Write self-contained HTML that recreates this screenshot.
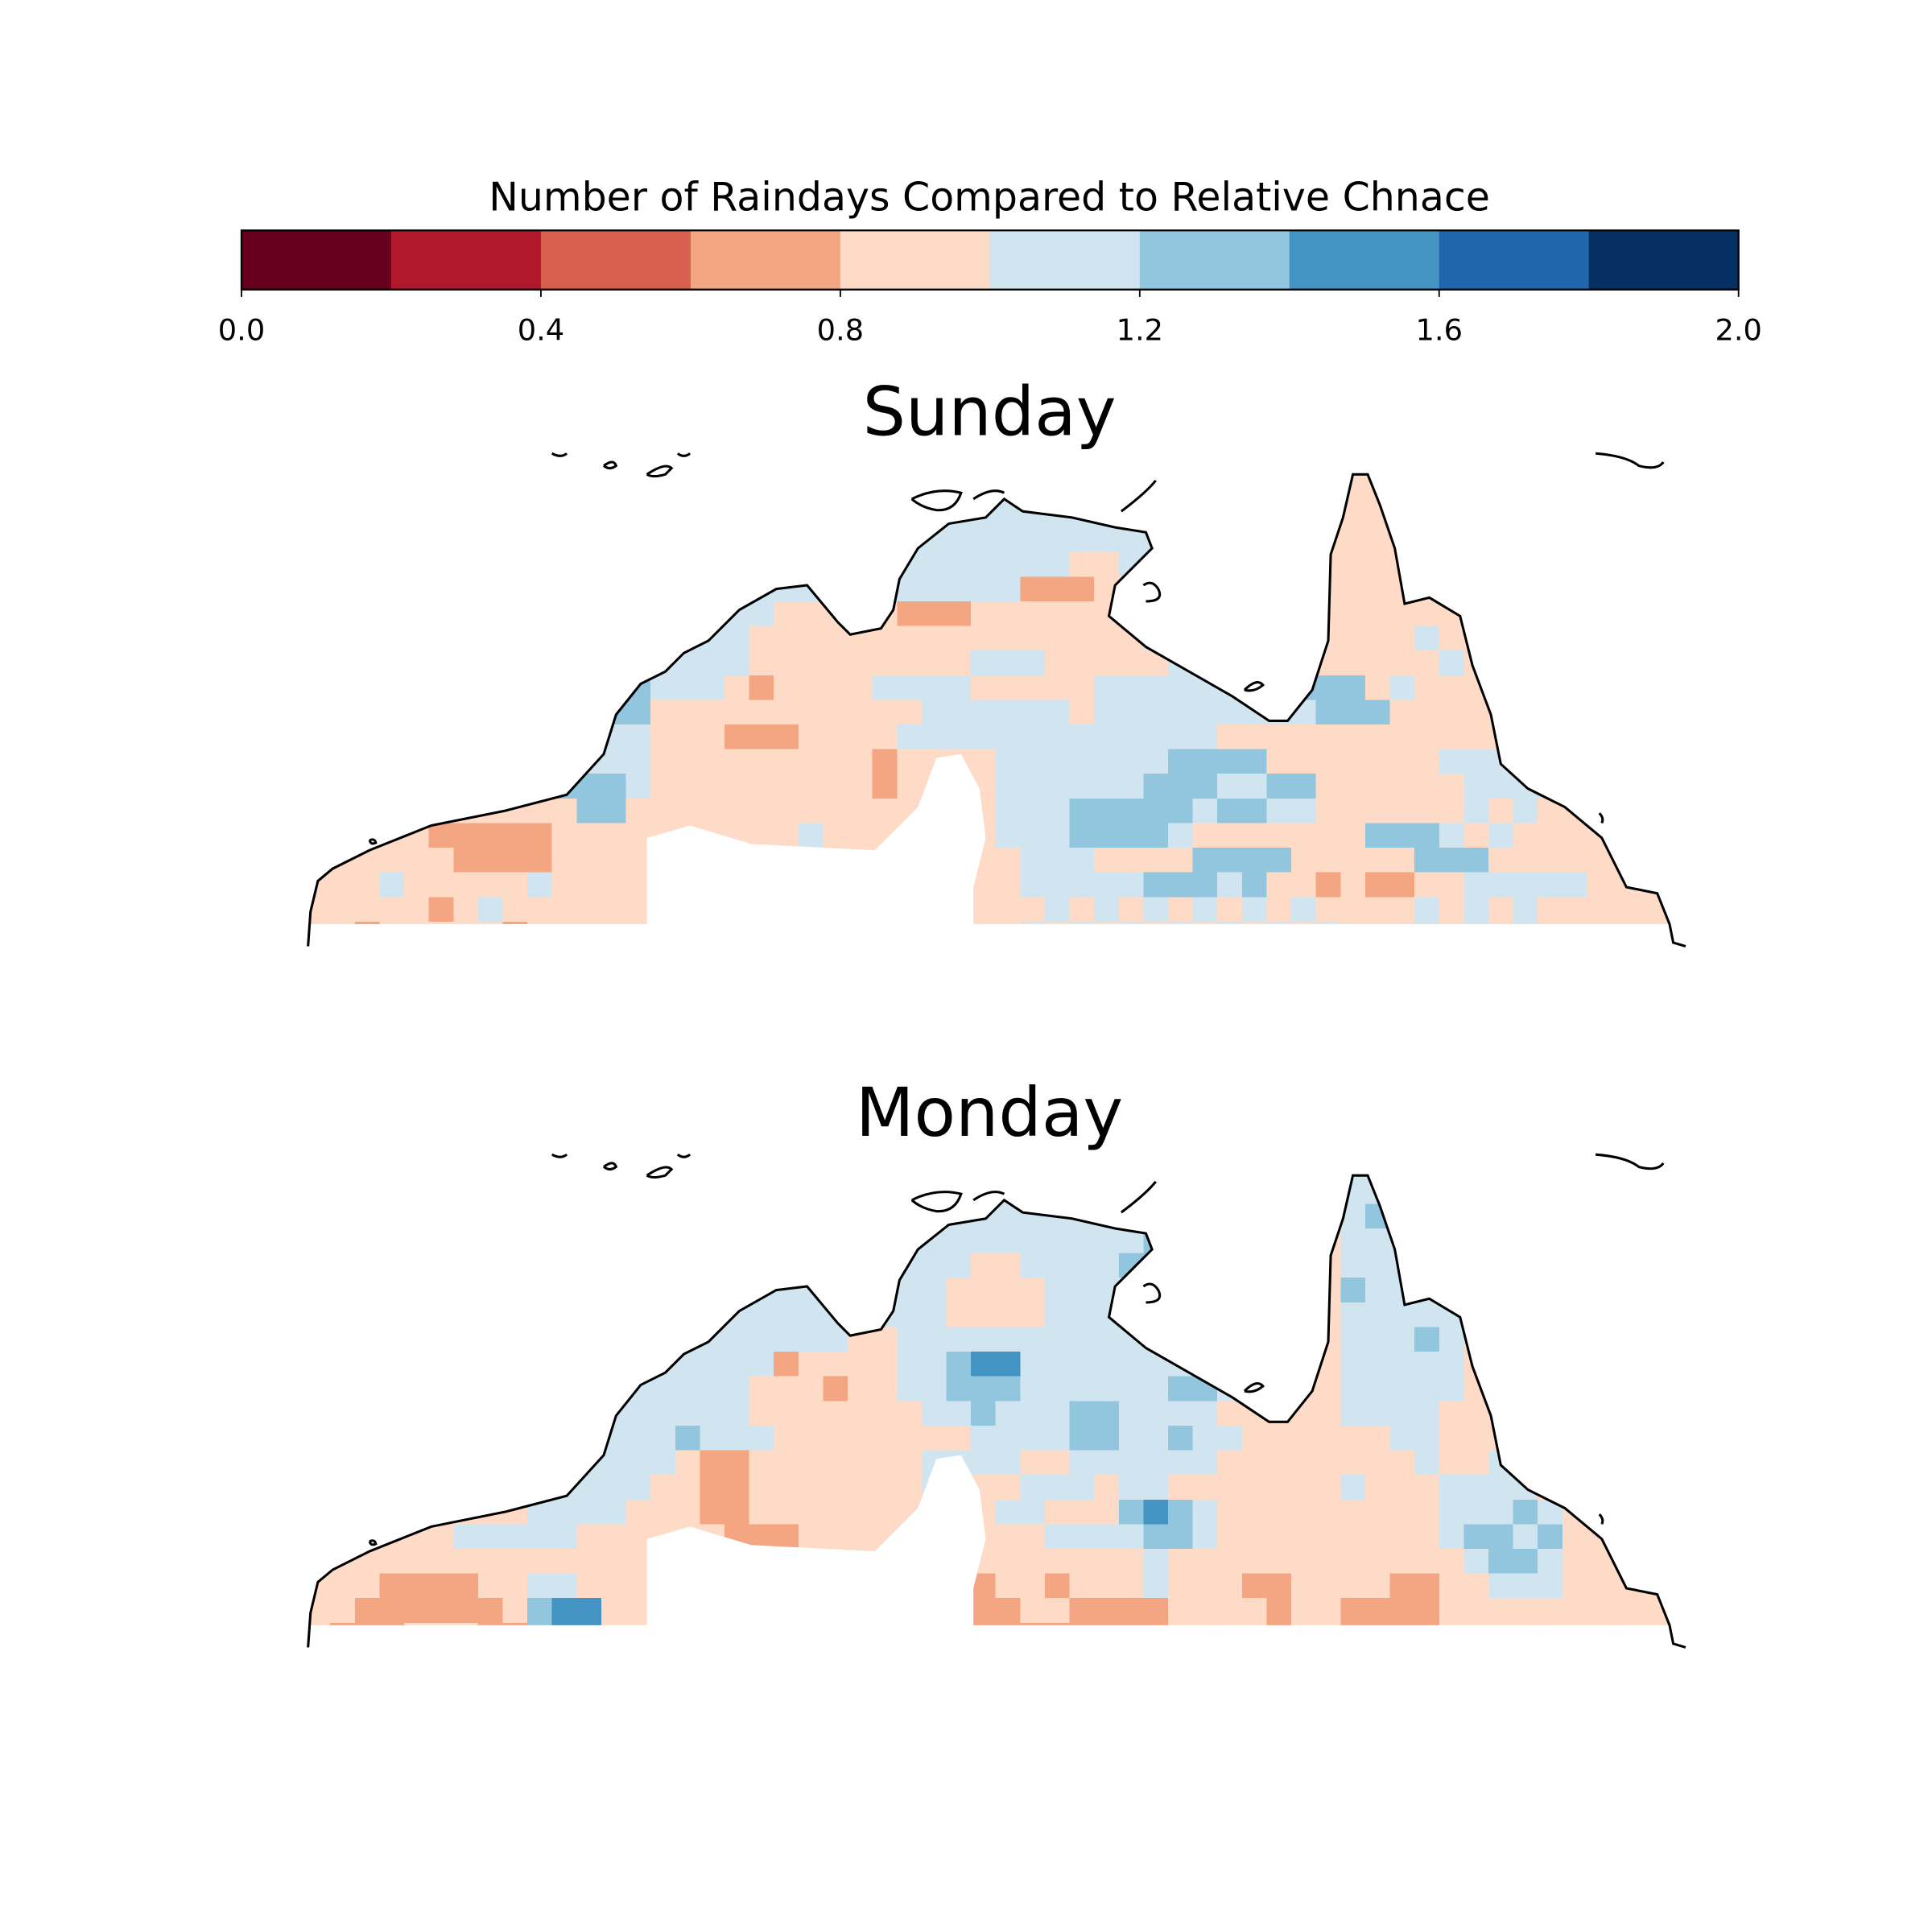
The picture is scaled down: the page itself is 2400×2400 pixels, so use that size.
<!DOCTYPE html>
<html><head><meta charset="utf-8"><title>Raindays maps</title>
<style>html,body{margin:0;padding:0;background:#fff}svg{display:block}text{font-family:"DejaVu Sans","Liberation Sans",sans-serif;fill:#000}</style>
</head><body>
<svg id="chart" width="2400" height="2400" viewBox="0 0 1568 1568" xmlns="http://www.w3.org/2000/svg">
<defs>
<clipPath id="landclip"><polygon points="250,768 252,740 258,715 270,705 300,690 350,670 410,658 460,645 490,612 500,580 520,555 540,545 555,530 575,520 600,495 630,478 655,475 680,505 690,515 715,510 725,495 730,470 745,445 770,425 800,420 815,405 830,415 870,420 905,428 930,432 935,445 920,460 905,475 900,500 930,525 965,545 1000,565 1030,585 1045,585 1065,560 1078,520 1080,450 1090,420 1098,385 1110,385 1120,410 1132,445 1140,490 1160,485 1185,500 1195,540 1210,580 1218,620 1240,640 1270,655 1300,680 1320,720 1345,725 1355,750 790,750 790,720 800,680 795,640 780,612 760,615 745,655 710,690 610,685 560,670 525,680 525,750 252,750"/></clipPath>
</defs>
<text x="803" y="171" font-size="32" text-anchor="middle">Number of Raindays Compared to Relative Chnace</text>
<g id="colorbar"></g>
<text x="803" y="353" font-size="55" text-anchor="middle">Sunday</text>
<g id="sunday"></g>
<text x="803" y="922" font-size="55" text-anchor="middle">Monday</text>
<g id="monday" transform="translate(0,569)"></g>
</svg>
<script>
const classColors = ["#67001f","#b2182b","#d6604d","#f4a582","#fddbc7","#d1e5f0","#92c5de","#4393c3","#2166ac","#053061"];
const tickLabels = ["0.0","0.4","0.8","1.2","1.6","2.0"];
const tickValues = [0,0.4,0.8,1.2,1.6,2.0];
const sundayRows = [
"44444444444444444444444444444444444444444444444444444444",
"44444444444444444444444435555555544444444444444444444444",
"44444444444444444444444455555555554444444444444444444444",
"44444444444444444444444555555555555444444444454444444444",
"44444444444444444444444555555554455444444444444444444444",
"44444444444444444455555555555333445444444444444444444444",
"44444444444444455554444433344444455444444444444444444444",
"44444444444444555544444444444444445554444444454444444444",
"44444444444445555544444444455544444555544444445444444444",
"44444444444456555434444555544444555555556664544444444444",
"44444444444466444444444445555554555555555666444444444444",
"44444444444555444333444455555555555554444444444445444444",
"44444444445555444444444344445555555666644444445555444444",
"44444444466665444444444344445555556665566444444555544444",
"44444444444664444444444444445556666656655444444545444444",
"44444333334444444444544444445556666544444446665454444444",
"44444433334444444444444444444555444466664444466644444444",
"44454444454444444444444444444555556665644343344555554444",
"44444345444444444444444444444454545454545444454545444444",
"44344444344444444444444444444545454545454544454545444444"];
const mondayRows = [
"44444444444444444444444444444444444444444555444444444444",
"44444444444444444444444455555555555444444455444444444444",
"44444444444444444444444555555555555544444456544444444444",
"44444444444444444444444555555555556544444455544444444444",
"44444444444444444444444555544555566554444455544444444444",
"44444444444444444455555555444455555544444465554444444444",
"44444444444444455555555555444455555544444455555444444444",
"44444444444444555555554455555555555554444455565444444444",
"44444444444445555553444455677555555555444455555444444444",
"44444444444455555544434455666555555665444455555444444444",
"44444444444555555544444445565556655554444455554444444444",
"44444444444555565554444444455556655655444444554444444444",
"44444444445555543344444445555445555554444444454454444444",
"44444444445555443344444445444555455444444454445555444444",
"44444444455554443344444444445544467654444444445556544444",
"44444455555444444333444444444455556654444444445665644444",
"44444444444444444444444444444444445444444444444566544444",
"44433334455444444444444444434434445444334444334455544444",
"44333333467744444444444444433443333444434433334444444444",
"43334443367744444444444444433333333444434433334444444444"];
const NS="http://www.w3.org/2000/svg";
function mk(tag, attrs, parent){const e=document.createElementNS(NS,tag);for(const k in attrs)e.setAttribute(k,attrs[k]);parent.appendChild(e);return e;}
const cb=document.getElementById('colorbar');
const cbX0=196,cbX1=1411,cbY=187,cbH=48,vmin=0,vmax=2;
const xScale=v=>cbX0+(v-vmin)/(vmax-vmin)*(cbX1-cbX0);
classColors.forEach((c,i)=>{
  const r=mk('rect',{x:xScale(i*0.2),y:cbY,width:xScale((i+1)*0.2)-xScale(i*0.2)+0.5,height:cbH,fill:c},cb);
  
  
});
const frame=mk('rect',{x:cbX0,y:cbY,width:cbX1-cbX0,height:cbH,fill:'none',stroke:'#000','stroke-width':1.5},cb);


tickValues.forEach((v,i)=>{
  const t=mk('line',{x1:xScale(v),x2:xScale(v),y1:cbY+cbH,y2:cbY+cbH+6,stroke:'#000','stroke-width':1.2},cb);
  
  
  const l=mk('text',{x:xScale(v),y:276,'font-size':24,'text-anchor':'middle'},cb);
  l.textContent=tickLabels[i];
  
  
});
const gx0=248,gy0=368,cell=20;
const coast="M250,768 L252,740 L258,715 L270,705 L300,690 L350,670 L410,658 L460,645 L490,612 L500,580 L520,555 L540,545 L555,530 L575,520 L600,495 L630,478 L655,475 L680,505 L690,515 L715,510 L725,495 L730,470 L745,445 L770,425 L800,420 L815,405 L830,415 L870,420 L905,428 L930,432 L935,445 L920,460 L905,475 L900,500 L930,525 L965,545 L1000,565 L1030,585 L1045,585 L1065,560 L1078,520 L1080,450 L1090,420 L1098,385 L1110,385 L1120,410 L1132,445 L1140,490 L1160,485 L1185,500 L1195,540 L1210,580 L1218,620 L1240,640 L1270,655 L1300,680 L1320,720 L1345,725 L1355,750 L1358,765 L1368,768";
function drawMap(gid, rows){
  const g=document.getElementById(gid);
  const cg=mk('g',{'clip-path':'url(#landclip)','shape-rendering':'crispEdges'},g);
  rows.forEach((row,r)=>{
    for(let c=0;c<row.length;c++){
      const k=+row[c];
      const rc=mk('rect',{x:gx0+c*cell,y:gy0+r*cell,width:cell+0.5,height:cell+0.5,fill:classColors[k]},cg);
      
      
    }
  });
  const p=mk('path',{d:coast,fill:'none',stroke:'#000','stroke-width':2},g);
  
  
  const extras=["M448,368 Q455,372 460,368","M490,378 Q498,372 500,378 Q495,382 490,378","M525,385 Q540,375 545,380 L540,385 Q530,388 525,385","M550,368 Q555,372 560,368","M740,405 Q760,395 780,400 Q775,415 760,414 Q748,412 740,405","M790,405 Q805,395 815,400","M1010,560 Q1020,550 1025,556 Q1018,562 1010,560","M928,475 Q935,470 940,478 Q945,488 930,488","M1295,368 Q1320,370 1330,378 Q1345,382 1350,375","M300,682 Q304,680 305,684 Q301,686 300,682","M910,415 Q930,400 938,390","M1298,660 Q1302,664 1300,668"];
  extras.forEach(d=>{
    const e=mk('path',{d:d,fill:'none',stroke:'#000','stroke-width':2},g);
    
    
  });
}
drawMap('sunday', sundayRows);
drawMap('monday', mondayRows);
</script>
</body></html>
